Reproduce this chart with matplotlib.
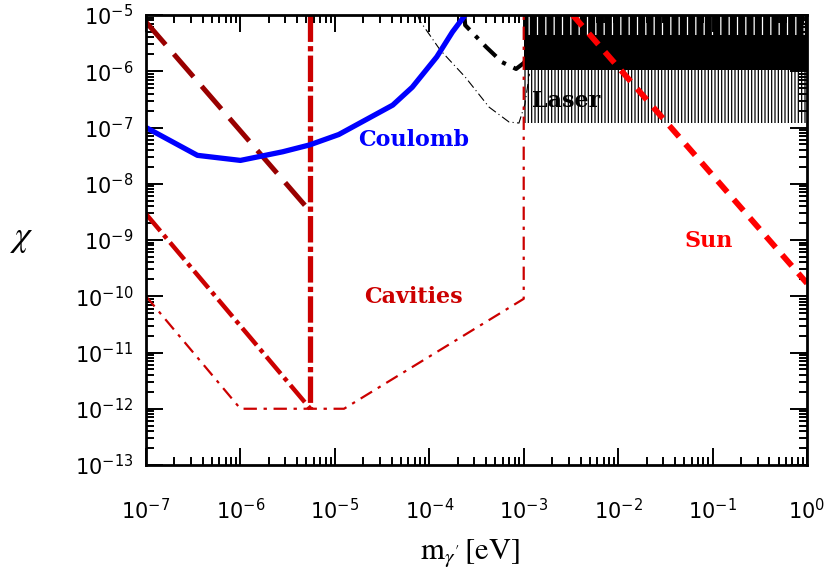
import numpy as np
import matplotlib
matplotlib.use('Agg')
import matplotlib.pyplot as plt

# dark red dashed (thick)
dr_x = [1e-7, 5.5e-6]
dr_y = [7.5e-6, 3.2e-9]
# vertical cavity line
cv_x = [5.5e-6, 5.5e-6]
cv_y = [1e-5, 1e-12]
# thick dash-dot diagonal
cd_x = [1e-7, 5.5e-6]
cd_y = [2.9e-9, 1e-12]
# thin dash-dot cavities
ct_x = [1e-7, 1e-6, 1.25e-5, 1e-3, 1e-3]
ct_y = [1e-10, 1e-12, 1e-12, 9e-11, 1e-5]
# Coulomb
co_x = [1e-7, 3.5e-7, 1e-6, 2.8e-6, 5.4e-6, 1.1e-5, 4.1e-5, 6.6e-5, 1.2e-4, 1.76e-4, 2.4e-4]
co_y = [1e-7, 3.2e-8, 2.6e-8, 3.7e-8, 4.9e-8, 7.5e-8, 2.5e-7, 5.2e-7, 1.8e-6, 5e-6, 1e-5]
# Laser, thick
lk_x = [2.35e-4, 2.4e-4, 4e-4, 5.9e-4, 8.3e-4, 1e-3, 1.15e-3]
lk_y = [1e-5, 6.6e-6, 2.7e-6, 1.45e-6, 1.1e-6, 1.4e-6, 2e-6]
# Laser, thin
lt_x = [7.5e-5, 7.9e-5, 1.3e-4, 2.4e-4, 4.3e-4, 7e-4, 8.9e-4, 1.03e-3, 1.15e-3]
lt_y = [1e-5, 8e-6, 2.4e-6, 7.9e-7, 2.3e-7, 1.25e-7, 1.2e-7, 2.6e-7, 9e-7]
# Laser oscillating region
osc_x = [1e-3, 1.0]
osc_top = [1e-5, 1e-5]
osc_gap = [4.4e-6, 4.4e-6]
osc_dense = [1.05e-6, 1.05e-6]
osc_low = [1.2e-7, 1.2e-7]
# Sun
sun_x = [3.3e-3, 1.0]
sun_y = [1e-5, 1.7e-10]

plt.rcParams['hatch.linewidth'] = 0.9

fig = plt.figure(figsize=(8.31, 5.75), dpi=100)
ax = fig.add_axes([146/831, 1-465/575, 661/831, 450/575])

ax.fill_between(osc_x, osc_low, osc_dense, facecolor='none', edgecolor='black',
                hatch='|||||', linewidth=0)
ax.fill_between(osc_x, osc_dense, osc_top, color='black', linewidth=0)
ax.fill_between(osc_x, osc_gap, osc_top, facecolor='none', edgecolor='white',
                hatch='||', linewidth=0)

ax.plot(lt_x, lt_y, color='black', lw=0.8, dashes=(8, 3, 1, 3))
ax.plot(lk_x, lk_y, color='black', lw=3, dashes=(4, 2, 1, 2))

ax.plot(ct_x, ct_y, color='#cc0000', lw=1.6, dashes=(6, 3, 1.5, 3))
ax.plot(cd_x, cd_y, color='#cc0000', lw=3.2, dashes=(5, 1.2, 1, 1.2))
ax.plot(cv_x, cv_y, color='#cc0000', lw=3.8, dashes=(5, 0.8, 1, 0.8))
ax.plot(dr_x, dr_y, color='#990000', lw=3.6, dashes=(6, 2.5))
ax.plot(co_x, co_y, color='#0000ff', lw=3.8, solid_capstyle='butt')
ax.plot(sun_x, sun_y, color='#ff0000', lw=4.2, dashes=(2.5, 1.7))

ax.set_xscale('log')
ax.set_yscale('log')
ax.set_xlim(1e-7, 1)
ax.set_ylim(1e-13, 1e-5)

ax.set_xticks([10.0**k for k in range(-7, 1)])
ax.set_yticks([10.0**k for k in range(-13, -4)])
ax.tick_params(which='both', direction='in', top=True, right=True, width=1.4)
ax.tick_params(which='major', length=12, labelsize=15)
ax.tick_params(which='minor', length=6)
ax.tick_params(axis='x', pad=24)
ax.tick_params(axis='y', pad=9)
for s in ax.spines.values():
    s.set_linewidth(2)

lab = dict(fontsize=16, fontweight='bold', family='DejaVu Serif', ha='center', va='center')
ax.text(6.9e-5, 6e-8, 'Coulomb', color='#0000ff', **lab)
ax.text(6.8e-5, 9.8e-11, 'Cavities', color='#cc0000', **lab)
ax.text(9.2e-2, 9.6e-10, 'Sun', color='#ff0000', **lab)
ax.text(2.8e-3, 3e-7, 'Laser', color='black', **lab)

fig.text(470/831, 1-553/575, r"$\mathrm{m}_{\gamma'}\,[\mathrm{eV}]$", fontsize=22,
         math_fontfamily='stix', ha='center', va='center')
fig.text(22/831, 1-238/575, r'$\chi$', fontsize=26, math_fontfamily='stix',
         ha='center', va='center')

fig.savefig('out.png', dpi=100)
